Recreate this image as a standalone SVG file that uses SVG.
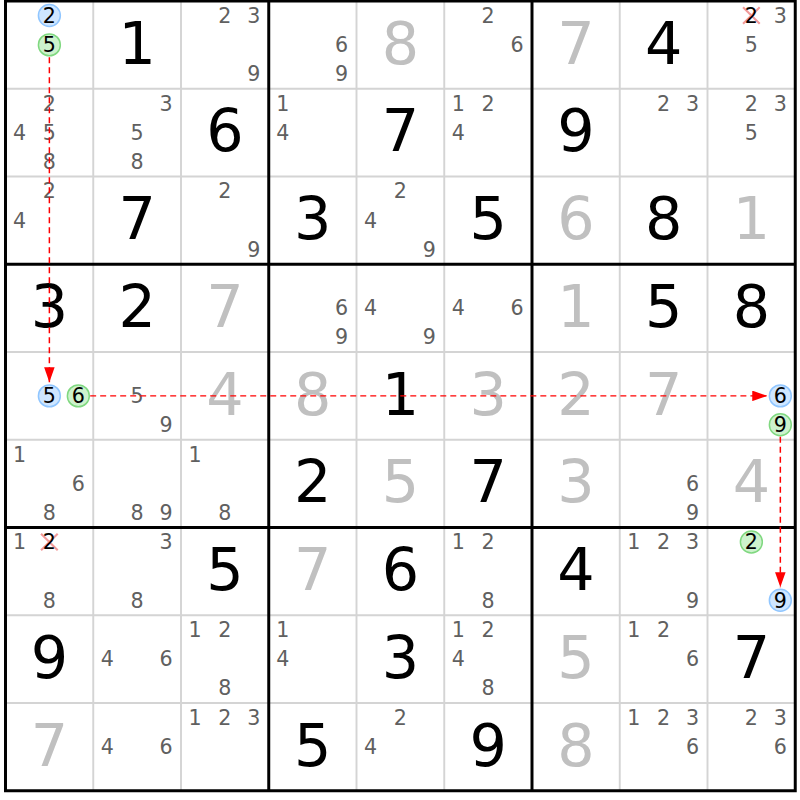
<svg xmlns="http://www.w3.org/2000/svg" width="800" height="800" viewBox="0 0 800 800">
<defs>
<style>
text{font-family:"DejaVu Sans","Liberation Sans",sans-serif;text-anchor:middle}
.c{font-size:23.5px;fill:#606060}
.h{font-size:23.5px;fill:#000}
.g{font-size:67px;fill:#000}
.s{font-size:67px;fill:#c0c0c0}
.thin{stroke:#d4d4d4;stroke-width:2.2;fill:none}
.thick{stroke:#000;stroke-width:3.4;fill:none}
.cb{fill:#cfe6ff;stroke:#90c6ff;stroke-width:1.7}
.cg{fill:#cdf2cd;stroke:#80d880;stroke-width:1.7}
.x{stroke:#f29a9a;stroke-width:2.4;fill:none}
.link{stroke:#f00;stroke-width:1.7;stroke-dasharray:6.8 4.6;fill:none}
</style>
<marker id="ah" viewBox="0 0 17 12" refX="17" refY="6" markerWidth="17" markerHeight="12" orient="auto" markerUnits="userSpaceOnUse"><path d="M0,0 L17,6 L0,12 Z" fill="#f00"/></marker>
</defs>
<rect width="800" height="800" fill="#fff"/>
<g transform="translate(5.5,1) scale(0.8775)">
<g id="grid">
<path class="thin" d="M100,0V900M200,0V900M400,0V900M500,0V900M700,0V900M800,0V900M0,100H900M0,200H900M0,400H900M0,500H900M0,700H900M0,800H900"/>
<path class="thick" d="M0,0H900V900H0ZM300,0V900M600,0V900M0,300H900M0,600H900"/>
</g>
<g id="cells">
<g id="r1c1"><circle class="cb" cx="50" cy="16.5" r="12.5"/><text class="h" x="50" y="24.8">2</text><circle class="cg" cx="50" cy="50" r="12.5"/><text class="h" x="50" y="58.3">5</text></g>
<g id="r1c2" transform="translate(100,0)"><text class="g" x="50" y="71.5">1</text></g>
<g id="r1c3" transform="translate(200,0)"><text class="c" x="50" y="24.8">2</text><text class="c" x="83" y="24.8">3</text><text class="c" x="83" y="91.3">9</text></g>
<g id="r1c4" transform="translate(300,0)"><text class="c" x="83" y="58.3">6</text><text class="c" x="83" y="91.3">9</text></g>
<g id="r1c5" transform="translate(400,0)"><text class="s" x="50" y="71.5">8</text></g>
<g id="r1c6" transform="translate(500,0)"><text class="c" x="50" y="24.8">2</text><text class="c" x="83" y="58.3">6</text></g>
<g id="r1c7" transform="translate(600,0)"><text class="s" x="50" y="71.5">7</text></g>
<g id="r1c8" transform="translate(700,0)"><text class="g" x="50" y="71.5">4</text></g>
<g id="r1c9" transform="translate(800,0)"><path class="x" d="M40.5,7L59.5,26M59.5,7L40.5,26"/><text class="h" x="50" y="24.8">2</text><text class="c" x="83" y="24.8">3</text><text class="c" x="50" y="58.3">5</text></g>

<g id="r2c1" transform="translate(0,100)"><text class="c" x="50" y="24.8">2</text><text class="c" x="16" y="58.3">4</text><text class="c" x="50" y="58.3">5</text><text class="c" x="50" y="91.3">8</text></g>
<g id="r2c2" transform="translate(100,100)"><text class="c" x="83" y="24.8">3</text><text class="c" x="50" y="58.3">5</text><text class="c" x="50" y="91.3">8</text></g>
<g id="r2c3" transform="translate(200,100)"><text class="g" x="50" y="71.5">6</text></g>
<g id="r2c4" transform="translate(300,100)"><text class="c" x="16" y="24.8">1</text><text class="c" x="16" y="58.3">4</text></g>
<g id="r2c5" transform="translate(400,100)"><text class="g" x="50" y="71.5">7</text></g>
<g id="r2c6" transform="translate(500,100)"><text class="c" x="16" y="24.8">1</text><text class="c" x="50" y="24.8">2</text><text class="c" x="16" y="58.3">4</text></g>
<g id="r2c7" transform="translate(600,100)"><text class="g" x="50" y="71.5">9</text></g>
<g id="r2c8" transform="translate(700,100)"><text class="c" x="50" y="24.8">2</text><text class="c" x="83" y="24.8">3</text></g>
<g id="r2c9" transform="translate(800,100)"><text class="c" x="50" y="24.8">2</text><text class="c" x="83" y="24.8">3</text><text class="c" x="50" y="58.3">5</text></g>

<g id="r3c1" transform="translate(0,200)"><text class="c" x="50" y="24.8">2</text><text class="c" x="16" y="58.3">4</text></g>
<g id="r3c2" transform="translate(100,200)"><text class="g" x="50" y="71.5">7</text></g>
<g id="r3c3" transform="translate(200,200)"><text class="c" x="50" y="24.8">2</text><text class="c" x="83" y="91.3">9</text></g>
<g id="r3c4" transform="translate(300,200)"><text class="g" x="50" y="71.5">3</text></g>
<g id="r3c5" transform="translate(400,200)"><text class="c" x="50" y="24.8">2</text><text class="c" x="16" y="58.3">4</text><text class="c" x="83" y="91.3">9</text></g>
<g id="r3c6" transform="translate(500,200)"><text class="g" x="50" y="71.5">5</text></g>
<g id="r3c7" transform="translate(600,200)"><text class="s" x="50" y="71.5">6</text></g>
<g id="r3c8" transform="translate(700,200)"><text class="g" x="50" y="71.5">8</text></g>
<g id="r3c9" transform="translate(800,200)"><text class="s" x="50" y="71.5">1</text></g>

<g id="r4c1" transform="translate(0,300)"><text class="g" x="50" y="71.5">3</text></g>
<g id="r4c2" transform="translate(100,300)"><text class="g" x="50" y="71.5">2</text></g>
<g id="r4c3" transform="translate(200,300)"><text class="s" x="50" y="71.5">7</text></g>
<g id="r4c4" transform="translate(300,300)"><text class="c" x="83" y="58.3">6</text><text class="c" x="83" y="91.3">9</text></g>
<g id="r4c5" transform="translate(400,300)"><text class="c" x="16" y="58.3">4</text><text class="c" x="83" y="91.3">9</text></g>
<g id="r4c6" transform="translate(500,300)"><text class="c" x="16" y="58.3">4</text><text class="c" x="83" y="58.3">6</text></g>
<g id="r4c7" transform="translate(600,300)"><text class="s" x="50" y="71.5">1</text></g>
<g id="r4c8" transform="translate(700,300)"><text class="g" x="50" y="71.5">5</text></g>
<g id="r4c9" transform="translate(800,300)"><text class="g" x="50" y="71.5">8</text></g>

<g id="r5c1" transform="translate(0,400)"><circle class="cb" cx="50" cy="50" r="12.5"/><text class="h" x="50" y="58.3">5</text><circle class="cg" cx="83" cy="50" r="12.5"/><text class="h" x="83" y="58.3">6</text></g>
<g id="r5c2" transform="translate(100,400)"><text class="c" x="50" y="58.3">5</text><text class="c" x="83" y="91.3">9</text></g>
<g id="r5c3" transform="translate(200,400)"><text class="s" x="50" y="71.5">4</text></g>
<g id="r5c4" transform="translate(300,400)"><text class="s" x="50" y="71.5">8</text></g>
<g id="r5c5" transform="translate(400,400)"><text class="g" x="50" y="71.5">1</text></g>
<g id="r5c6" transform="translate(500,400)"><text class="s" x="50" y="71.5">3</text></g>
<g id="r5c7" transform="translate(600,400)"><text class="s" x="50" y="71.5">2</text></g>
<g id="r5c8" transform="translate(700,400)"><text class="s" x="50" y="71.5">7</text></g>
<g id="r5c9" transform="translate(800,400)"><circle class="cb" cx="83" cy="50" r="12.5"/><text class="h" x="83" y="58.3">6</text><circle class="cg" cx="83" cy="83" r="12.5"/><text class="h" x="83" y="91.3">9</text></g>

<g id="r6c1" transform="translate(0,500)"><text class="c" x="16" y="24.8">1</text><text class="c" x="83" y="58.3">6</text><text class="c" x="50" y="91.3">8</text></g>
<g id="r6c2" transform="translate(100,500)"><text class="c" x="50" y="91.3">8</text><text class="c" x="83" y="91.3">9</text></g>
<g id="r6c3" transform="translate(200,500)"><text class="c" x="16" y="24.8">1</text><text class="c" x="50" y="91.3">8</text></g>
<g id="r6c4" transform="translate(300,500)"><text class="g" x="50" y="71.5">2</text></g>
<g id="r6c5" transform="translate(400,500)"><text class="s" x="50" y="71.5">5</text></g>
<g id="r6c6" transform="translate(500,500)"><text class="g" x="50" y="71.5">7</text></g>
<g id="r6c7" transform="translate(600,500)"><text class="s" x="50" y="71.5">3</text></g>
<g id="r6c8" transform="translate(700,500)"><text class="c" x="83" y="58.3">6</text><text class="c" x="83" y="91.3">9</text></g>
<g id="r6c9" transform="translate(800,500)"><text class="s" x="50" y="71.5">4</text></g>

<g id="r7c1" transform="translate(0,600)"><text class="c" x="16" y="24.8">1</text><path class="x" d="M40.5,7L59.5,26M59.5,7L40.5,26"/><text class="h" x="50" y="24.8">2</text><text class="c" x="50" y="91.3">8</text></g>
<g id="r7c2" transform="translate(100,600)"><text class="c" x="83" y="24.8">3</text><text class="c" x="50" y="91.3">8</text></g>
<g id="r7c3" transform="translate(200,600)"><text class="g" x="50" y="71.5">5</text></g>
<g id="r7c4" transform="translate(300,600)"><text class="s" x="50" y="71.5">7</text></g>
<g id="r7c5" transform="translate(400,600)"><text class="g" x="50" y="71.5">6</text></g>
<g id="r7c6" transform="translate(500,600)"><text class="c" x="16" y="24.8">1</text><text class="c" x="50" y="24.8">2</text><text class="c" x="50" y="91.3">8</text></g>
<g id="r7c7" transform="translate(600,600)"><text class="g" x="50" y="71.5">4</text></g>
<g id="r7c8" transform="translate(700,600)"><text class="c" x="16" y="24.8">1</text><text class="c" x="50" y="24.8">2</text><text class="c" x="83" y="24.8">3</text><text class="c" x="83" y="91.3">9</text></g>
<g id="r7c9" transform="translate(800,600)"><circle class="cg" cx="50" cy="16.5" r="12.5"/><text class="h" x="50" y="24.8">2</text><circle class="cb" cx="83" cy="83" r="12.5"/><text class="h" x="83" y="91.3">9</text></g>

<g id="r8c1" transform="translate(0,700)"><text class="g" x="50" y="71.5">9</text></g>
<g id="r8c2" transform="translate(100,700)"><text class="c" x="16" y="58.3">4</text><text class="c" x="83" y="58.3">6</text></g>
<g id="r8c3" transform="translate(200,700)"><text class="c" x="16" y="24.8">1</text><text class="c" x="50" y="24.8">2</text><text class="c" x="50" y="91.3">8</text></g>
<g id="r8c4" transform="translate(300,700)"><text class="c" x="16" y="24.8">1</text><text class="c" x="16" y="58.3">4</text></g>
<g id="r8c5" transform="translate(400,700)"><text class="g" x="50" y="71.5">3</text></g>
<g id="r8c6" transform="translate(500,700)"><text class="c" x="16" y="24.8">1</text><text class="c" x="50" y="24.8">2</text><text class="c" x="16" y="58.3">4</text><text class="c" x="50" y="91.3">8</text></g>
<g id="r8c7" transform="translate(600,700)"><text class="s" x="50" y="71.5">5</text></g>
<g id="r8c8" transform="translate(700,700)"><text class="c" x="16" y="24.8">1</text><text class="c" x="50" y="24.8">2</text><text class="c" x="83" y="58.3">6</text></g>
<g id="r8c9" transform="translate(800,700)"><text class="g" x="50" y="71.5">7</text></g>

<g id="r9c1" transform="translate(0,800)"><text class="s" x="50" y="71.5">7</text></g>
<g id="r9c2" transform="translate(100,800)"><text class="c" x="16" y="58.3">4</text><text class="c" x="83" y="58.3">6</text></g>
<g id="r9c3" transform="translate(200,800)"><text class="c" x="16" y="24.8">1</text><text class="c" x="50" y="24.8">2</text><text class="c" x="83" y="24.8">3</text></g>
<g id="r9c4" transform="translate(300,800)"><text class="g" x="50" y="71.5">5</text></g>
<g id="r9c5" transform="translate(400,800)"><text class="c" x="50" y="24.8">2</text><text class="c" x="16" y="58.3">4</text></g>
<g id="r9c6" transform="translate(500,800)"><text class="g" x="50" y="71.5">9</text></g>
<g id="r9c7" transform="translate(600,800)"><text class="s" x="50" y="71.5">8</text></g>
<g id="r9c8" transform="translate(700,800)"><text class="c" x="16" y="24.8">1</text><text class="c" x="50" y="24.8">2</text><text class="c" x="83" y="24.8">3</text><text class="c" x="83" y="58.3">6</text></g>
<g id="r9c9" transform="translate(800,800)"><text class="c" x="50" y="24.8">2</text><text class="c" x="83" y="24.8">3</text><text class="c" x="83" y="58.3">6</text></g>
</g>
<g id="connectors">
<path class="link" d="M50,64V434.5" marker-end="url(#ah)"/>
<path class="link" d="M96.5,450H868" marker-end="url(#ah)"/>
<path class="link" d="M883,496.5V668" marker-end="url(#ah)"/>
</g>
</g>
</svg>
